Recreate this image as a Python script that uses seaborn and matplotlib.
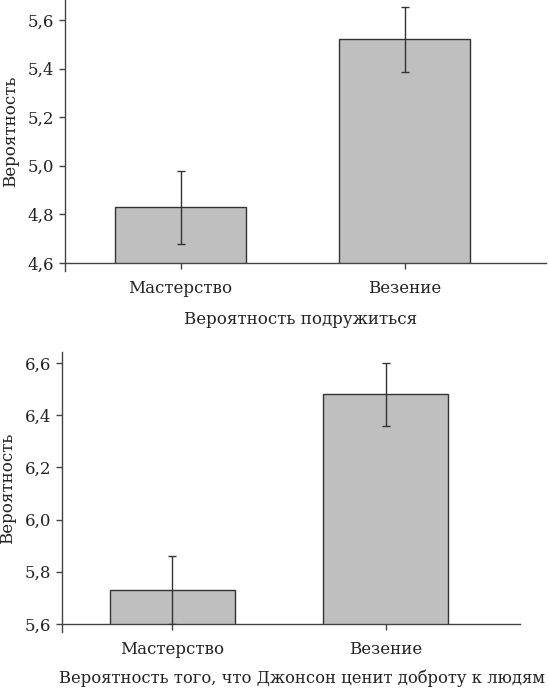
import seaborn as sns
import matplotlib.pyplot as plt
import pandas as pd
from matplotlib.ticker import FuncFormatter

# data
conditions = ['Мастерство', 'Везение']
friend_means = [4.83, 5.52]
friend_errs = [0.15, 0.135]
kind_means = [5.73, 6.48]
kind_errs = [0.13, 0.12]

sns.set_style('white')
plt.rcParams['font.family'] = ['DejaVu Serif']

fig = plt.figure(figsize=(5.49, 6.91), dpi=100)
W, H = 549, 691


def px_axes(left, right, top, bottom):
    return fig.add_axes([left / W, 1 - bottom / H, (right - left) / W, (bottom - top) / H])


ax_top = px_axes(65, 546, 0, 263)
ax_bot = px_axes(62, 520, 352, 624)

comma = FuncFormatter(lambda v, p: f'{v:.1f}'.replace('.', ','))

panels = [
    (ax_top, friend_means, friend_errs, (4.6, 5.682), [4.6, 4.8, 5.0, 5.2, 5.4, 5.6],
     'Вероятность подружиться', 0.49, -0.182, 12),
    (ax_bot, kind_means, kind_errs, (5.6, 6.642), [5.6, 5.8, 6.0, 6.2, 6.4, 6.6],
     'Вероятность того, что Джонсон ценит доброту к людям', 0.524, -0.168, 11.8),
]

for ax, means, errs, ylim, yticks, xlabel, xlab_x, xlab_y, xlab_fs in panels:
    df = pd.DataFrame({'cond': conditions, 'val': means})
    sns.barplot(data=df, x='cond', y='val', ax=ax, color='#bfbfbf', saturation=1,
                width=0.585, edgecolor='#333333', linewidth=1, errorbar=None)
    ax.errorbar(range(len(means)), means, yerr=errs, fmt='none', ecolor='#333333',
                elinewidth=1, capsize=3, capthick=1, zorder=5)
    ax.set_ylim(*ylim)
    ax.set_xlim(-0.516, 1.63)
    ax.set_yticks(yticks)
    ax.yaxis.set_major_formatter(comma)
    for s in ['top', 'right']:
        ax.spines[s].set_visible(False)
    for s in ['left', 'bottom']:
        ax.spines[s].set_color('#444444')
        ax.spines[s].set_linewidth(1)
    span = ylim[1] - ylim[0]
    ax.spines['left'].set_bounds(ylim[0] - 0.03 * span, ylim[1])
    ax.tick_params(axis='both', direction='out', length=4.5, width=1, color='#444444',
                   labelsize=12, labelcolor='#222222', left=True, bottom=True)
    ax.tick_params(axis='x', pad=8)
    ax.set_ylabel('Вероятность', fontsize=12, color='#222222', labelpad=6)
    ax.set_xlabel(xlabel, fontsize=xlab_fs, color='#222222')
    ax.xaxis.set_label_coords(xlab_x, xlab_y)

fig.savefig('out.png', dpi=100)
